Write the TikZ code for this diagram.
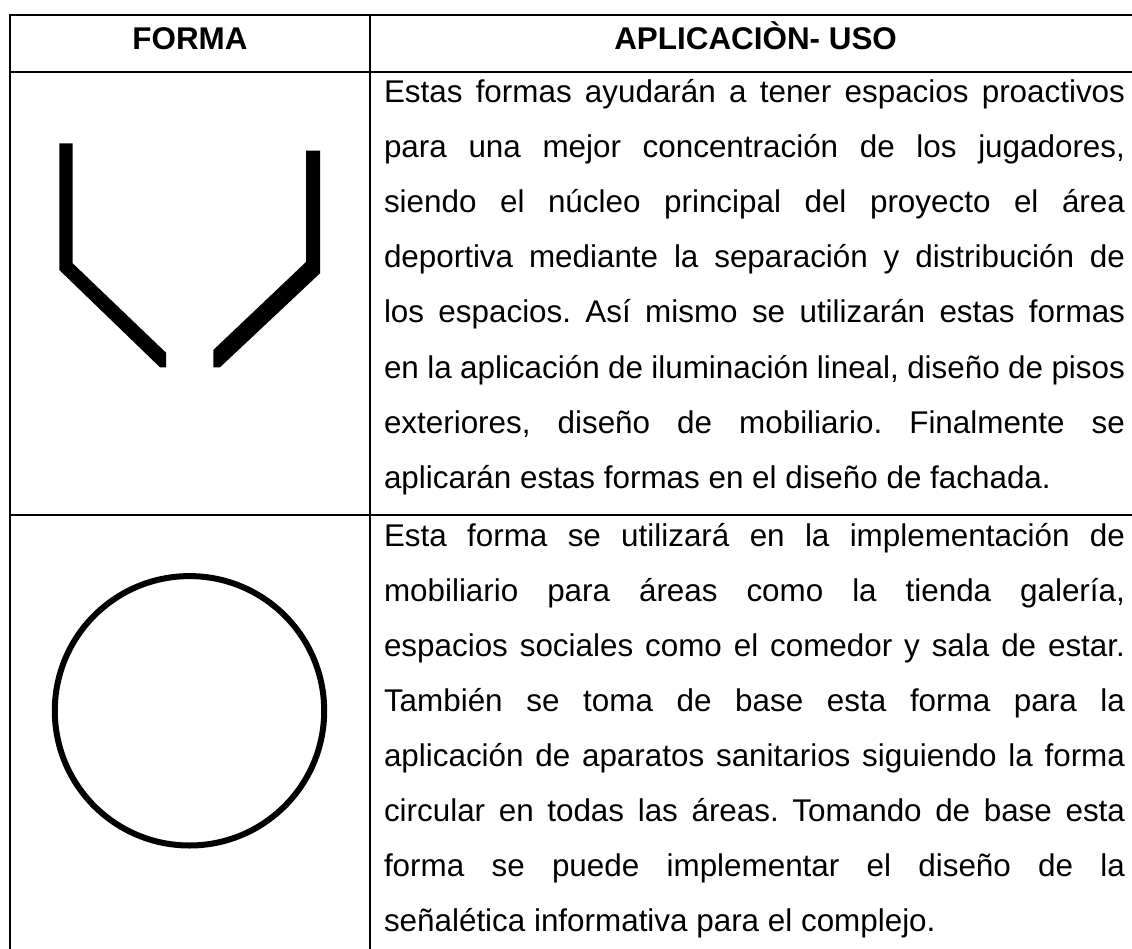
\documentclass[tikz,border=0pt]{standalone}
\usepackage{fontspec}
\setmainfont{Liberation Sans}
\frenchspacing
\newcommand{\justline}[1]{\makebox[741pt][s]{#1}}
\tikzset{
  body/.style={anchor=base west, inner sep=0pt, outer sep=0pt, font=\fontsize{31.4}{55}\selectfont},
  head/.style={anchor=base, inner sep=0pt, outer sep=0pt, font=\fontsize{31.4}{55}\selectfont\bfseries},
  rule/.style={line width=2pt, black},
  blackshape/.style={fill=black, draw=none},
  ring/.style={draw=black, line width=6pt}
}
\begin{document}
\begin{tikzpicture}[x=1pt, y=-1pt]
\useasboundingbox (0,0) rectangle (1132,949);
\fill[white] (0,0) rectangle (1132,949);
\begin{scope}
\clip (0,0) rectangle (1132,949);
% table rules
\draw[rule] (10,15) -- (1140,15);
\draw[rule] (10,72) -- (1140,72);
\draw[rule] (10,515) -- (1140,515);
\draw[rule] (10,14) -- (10,960);
\draw[rule] (370,14) -- (370,960);
\end{scope}
% header
\node[head] (hforma) at (190,50) {FORMA};
\node[head] (happ) at (755.6,50) {APLICACIÒN- USO};
% shape 1
\fill[blackshape] (59.3,143.3) -- (72.7,143.3) -- (72.7,263.3) -- (166,352.7) -- (166,367.3) -- (160,367.3) -- (59.3,270) -- cycle;
\fill[blackshape] (306,150.7) -- (320,150.7) -- (320,273.3) -- (220,367.3) -- (213.3,367.3) -- (213.3,350) -- (306,262) -- cycle;
% shape 2
\draw[ring] (189.5,710.8) circle (134.7);
% row 1 text
\node[body] (a1) at (384,103) {\justline{Estas formas ayudarán a tener espacios proactivos}};
\node[body] (a2) at (384,158) {\justline{para una mejor concentración de los jugadores,}};
\node[body] (a3) at (384,213) {\justline{siendo el núcleo principal del proyecto el área}};
\node[body] (a4) at (384,268) {\justline{deportiva mediante la separación y distribución de}};
\node[body] (a5) at (384,323) {\justline{los espacios. Así mismo se utilizarán estas formas}};
\node[body] (a6) at (384,378) {\justline{en la aplicación de iluminación lineal, diseño de pisos}};
\node[body] (a7) at (384,433) {\justline{exteriores, diseño de mobiliario. Finalmente se}};
\node[body] (a8) at (384,488) {aplicarán estas formas en el diseño de fachada.};
% row 2 text
\node[body] (b1) at (384,546) {\justline{Esta forma se utilizará en la implementación de}};
\node[body] (b2) at (384,601) {\justline{mobiliario para áreas como la tienda galería,}};
\node[body] (b3) at (384,656) {\justline{espacios sociales como el comedor y sala de estar.}};
\node[body] (b4) at (384,711) {\justline{También se toma de base esta forma para la}};
\node[body] (b5) at (384,766) {\justline{aplicación de aparatos sanitarios siguiendo la forma}};
\node[body] (b6) at (384,821) {\justline{circular en todas las áreas. Tomando de base esta}};
\node[body] (b7) at (384,876) {\justline{forma se puede implementar el diseño de la}};
\node[body] (b8) at (384,931) {señalética informativa para el complejo.};
\end{tikzpicture}
\end{document}
